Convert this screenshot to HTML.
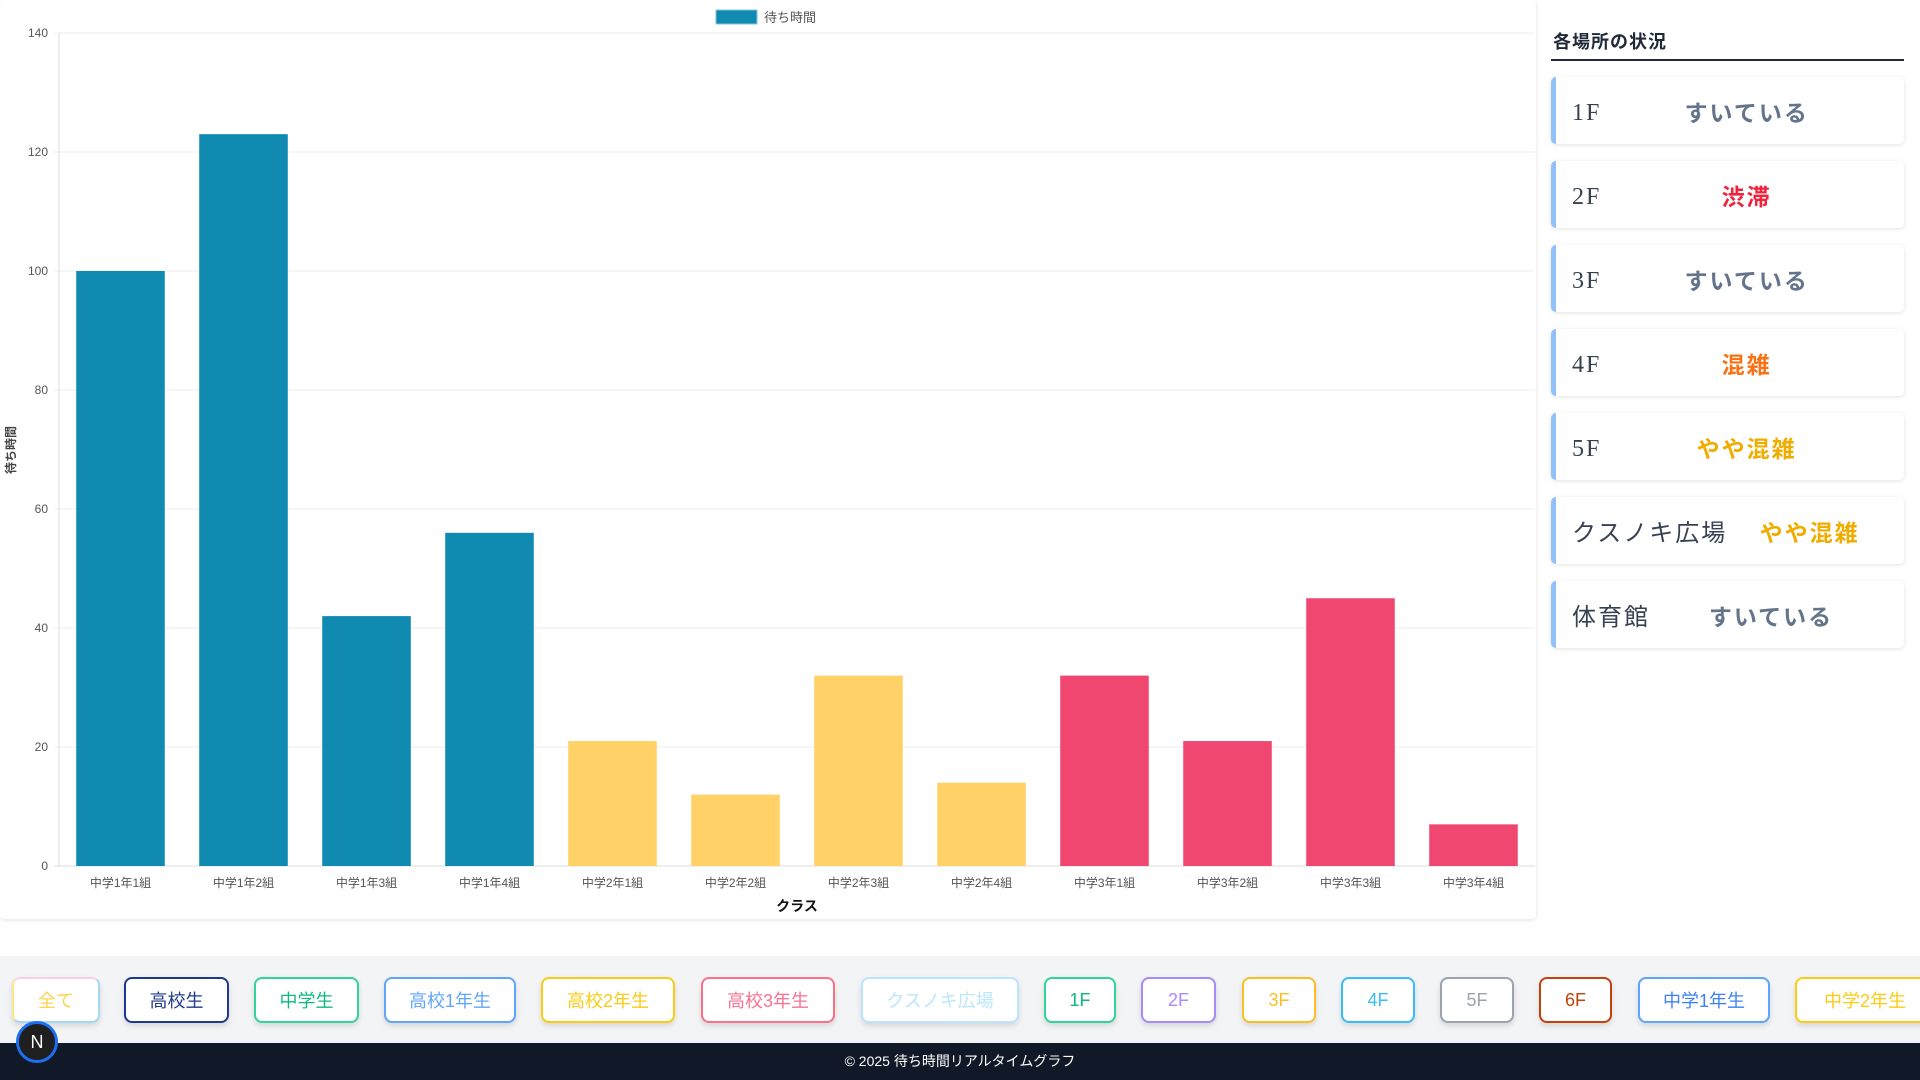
<!DOCTYPE html>
<html><head><meta charset="utf-8">
<style>
*{box-sizing:border-box;margin:0;padding:0}
body{width:1920px;height:1080px;overflow:hidden;background:#fff;font-family:"Liberation Sans","Noto Sans CJK JP",sans-serif;position:relative}
#card{position:absolute;left:0;top:0;width:1536px;height:919px;background:#fff;border-radius:4px;box-shadow:0 1px 4px rgba(0,0,0,.12)}
#side{position:absolute;left:1551px;top:0;width:353px}
.st-title{position:absolute;left:2px;top:28px;font-size:18px;font-weight:bold;color:#1f2937;letter-spacing:1px}
.st-line{position:absolute;left:0;top:59px;width:353px;height:2px;background:#1f2937}
.st-card{position:absolute;left:0;width:353px;height:67px;background:#fff;border-left:5px solid #90c2f9;border-radius:5px;box-shadow:0 1px 4px rgba(0,0,0,.12);display:flex;align-items:center;padding-left:16px;padding-right:12px}
.st-name{font-size:24px;color:#374151;font-family:"Liberation Serif","Noto Sans CJK JP",serif;letter-spacing:2px}
.st-name.lat{position:relative;top:3px}
.st-stat{flex:1;text-align:center;font-size:23px;font-weight:bold;letter-spacing:2px}
#bar{position:absolute;left:0;top:956px;width:1920px;height:87px;background:#f3f4f6}
.btn{position:absolute;top:21px;height:46px;border:2px solid;border-radius:8px;background:#fff;font-size:18px;display:flex;align-items:center;justify-content:center;box-shadow:0 3px 6px rgba(0,0,0,.12);white-space:nowrap}
#foot{position:absolute;left:0;top:1043px;width:1920px;height:37px;background:#111827;color:#fff;font-size:14px;text-align:center;line-height:37px}
#nlogo{position:absolute;left:16px;top:1021px;width:42px;height:42px;border-radius:50%;background:#1f1f1f;border:3px solid #1d6ff2;color:#fff;font-size:18px;text-align:center;line-height:36px}
</style></head><body>
<div id="card">
<svg id="chart" width="1536" height="919"></svg>
</div>
<div id="side">
<div class="st-title">各場所の状況</div>
<div class="st-line"></div>
<div class="st-card" style="top:77px"><span class="st-name lat">1F</span><span class="st-stat" style="color:#64748b">すいている</span></div>
<div class="st-card" style="top:161px"><span class="st-name lat">2F</span><span class="st-stat" style="color:#ef233c">渋滞</span></div>
<div class="st-card" style="top:245px"><span class="st-name lat">3F</span><span class="st-stat" style="color:#64748b">すいている</span></div>
<div class="st-card" style="top:329px"><span class="st-name lat">4F</span><span class="st-stat" style="color:#f97316">混雑</span></div>
<div class="st-card" style="top:413px"><span class="st-name lat">5F</span><span class="st-stat" style="color:#f0ad00">やや混雑</span></div>
<div class="st-card" style="top:497px"><span class="st-name">クスノキ広場</span><span class="st-stat" style="color:#f0ad00">やや混雑</span></div>
<div class="st-card" style="top:581px"><span class="st-name">体育館</span><span class="st-stat" style="color:#64748b">すいている</span></div>
</div>
<div id="bar">
<div class="btn" style="left:12px;width:88px;color:#fcd34d;border-color:#fbcfe8 #a5d8f5 #a5d8f5 #fde68a">全て</div>
<div class="btn" style="left:124px;width:105px;color:#1e3a8a;border-color:#1e3a8a">高校生</div>
<div class="btn" style="left:254px;width:105px;color:#10b981;border-color:#34d399">中学生</div>
<div class="btn" style="left:384px;width:132px;color:#60a5fa;border-color:#60a5fa">高校1年生</div>
<div class="btn" style="left:541px;width:134px;color:#facc15;border-color:#facc15">高校2年生</div>
<div class="btn" style="left:701px;width:134px;color:#f87190;border-color:#fb7185">高校3年生</div>
<div class="btn" style="left:861px;width:158px;color:#bae6fd;border-color:#bae6fd">クスノキ広場</div>
<div class="btn" style="left:1044px;width:72px;color:#10b981;border-color:#34d399">1F</div>
<div class="btn" style="left:1141px;width:75px;color:#a78bfa;border-color:#a78bfa">2F</div>
<div class="btn" style="left:1242px;width:74px;color:#fbbf24;border-color:#fbbf24">3F</div>
<div class="btn" style="left:1341px;width:74px;color:#38bdf8;border-color:#38bdf8">4F</div>
<div class="btn" style="left:1440px;width:74px;color:#9ca3af;border-color:#9ca3af">5F</div>
<div class="btn" style="left:1539px;width:73px;color:#c2410c;border-color:#c2410c">6F</div>
<div class="btn" style="left:1638px;width:132px;color:#3b82f6;border-color:#60a5fa">中学1年生</div>
<div class="btn" style="left:1795px;width:140px;color:#facc15;border-color:#facc15">中学2年生</div>
</div>
<div id="foot">© 2025 待ち時間リアルタイムグラフ</div>
<div id="nlogo">N</div>
<script>
const categories=["中学1年1組","中学1年2組","中学1年3組","中学1年4組","中学2年1組","中学2年2組","中学2年3組","中学2年4組","中学3年1組","中学3年2組","中学3年3組","中学3年4組"];
const waitValues=[100,123,42,56,21,12,32,14,32,21,45,7];
const barColors=["#118ab2","#118ab2","#118ab2","#118ab2","#ffd166","#ffd166","#ffd166","#ffd166","#ef476f","#ef476f","#ef476f","#ef476f"];
const yTicks=[0,20,40,60,80,100,120,140];
const svg=document.getElementById('chart');
const NS='http://www.w3.org/2000/svg';
const L=59,R=1535,T=33,B=866,yMax=140;
const y=v=>B-(v/yMax)*(B-T);
const band=(R-L)/categories.length;
const x=i=>L+band*i;
function mk(tag,attrs,text){const e=document.createElementNS(NS,tag);for(const k in attrs)e.setAttribute(k,attrs[k]);if(text!==undefined)e.textContent=text;svg.appendChild(e);return e;}
yTicks.forEach(t=>{
 const g=mk('line',{x1:L-5,x2:R,y1:y(t),y2:y(t),stroke:t===0?'#ddd':'#ececec','stroke-width':1});
 
 
 const lb=mk('text',{x:L-11,y:y(t)+4,'text-anchor':'end','font-size':12,fill:'#555'},t);
 
 
});
const ax=mk('line',{x1:L,x2:L,y1:T,y2:B,stroke:'#ddd'});


categories.forEach((c,i)=>{
 const bw=band*0.72;
 const r=mk('rect',{x:x(i)+(band-bw)/2,y:y(waitValues[i]),width:bw,height:B-y(waitValues[i]),fill:barColors[i]});
 
 
 const t=mk('text',{x:x(i)+band/2,y:887,'text-anchor':'middle','font-size':12,fill:'#555'},c);
 
 
});
const xt=mk('text',{x:(L+R)/2,y:911,'text-anchor':'middle','font-size':14,'font-weight':'bold',fill:'#111'},'クラス');


const yt=mk('text',{x:0,y:0,'text-anchor':'middle','font-size':12,'font-weight':'bold',fill:'#444',transform:'translate(15,450) rotate(-90)'},'待ち時間');


const lg=mk('rect',{x:716,y:10,width:41,height:14,fill:'#118ab2',stroke:'#7fc3dc','stroke-width':1});


const lt=mk('text',{x:764,y:22,'font-size':13,fill:'#555'},'待ち時間');


</script>
</body></html>
